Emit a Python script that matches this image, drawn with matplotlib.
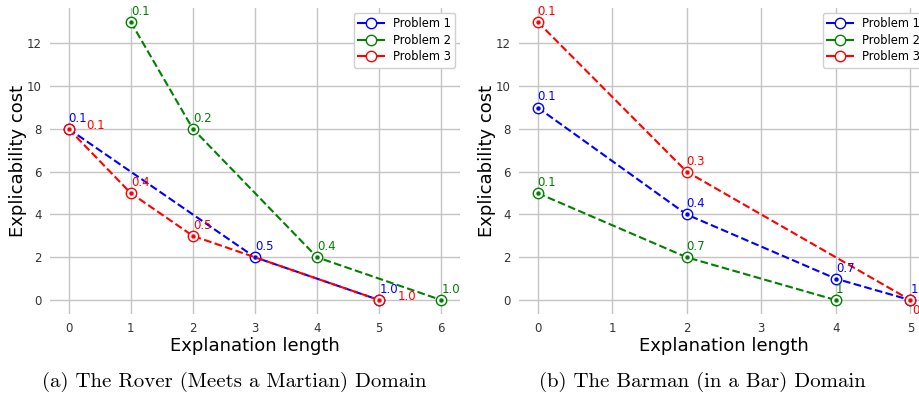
import matplotlib
matplotlib.use("Agg")
import matplotlib.pyplot as plt
from matplotlib.lines import Line2D

# (a) Rover domain
rover_p1_x = [0, 3, 5]
rover_p1_y = [8, 2, 0]
rover_p1_lbl = ["0.1", "0.5", "1.0"]
rover_p2_x = [1, 2, 4, 6]
rover_p2_y = [13, 8, 2, 0]
rover_p2_lbl = ["0.1", "0.2", "0.4", "1.0"]
rover_p3_x = [0, 1, 2, 5]
rover_p3_y = [8, 5, 3, 0]
rover_p3_lbl = ["0.1", "0.4", "0.5", "1.0"]

# (b) Barman domain
barman_p1_x = [0, 2, 4, 5]
barman_p1_y = [9, 4, 1, 0]
barman_p1_lbl = ["0.1", "0.4", "0.7", "1"]
barman_p2_x = [0, 2, 4]
barman_p2_y = [5, 2, 0]
barman_p2_lbl = ["0.1", "0.7", "1"]
barman_p3_x = [0, 2, 5]
barman_p3_y = [13, 6, 0]
barman_p3_lbl = ["0.1", "0.3", "0.9"]

names = ["Problem 1", "Problem 2", "Problem 3"]
colors = ["blue", "green", "red"]

# label offsets in points (style only)
rover_off = [
    [(0, 3), (0, 3), (0, 3)],
    [(0, 3), (0, 3), (0, 3), (0, 3)],
    [(13, -2), (0, 3), (0, 3), (13, -2)],
]
barman_off = [
    [(0, 3), (0, 3), (0, 3), (0, 3)],
    [(0, 3), (0, 3), (0, 3)],
    [(0, 3), (0, 3), (1, -12)],
]

fig = plt.figure(figsize=(9.2, 3.96), dpi=100)
ax1 = fig.add_axes([50 / 920, 82 / 396, 410 / 920, 306 / 396])
ax2 = fig.add_axes([519 / 920, 82 / 396, 410 / 920, 306 / 396])


def draw(ax, series, offsets):
    for (xs, ys, lbls), col, offs in zip(series, colors, offsets):
        ax.plot(xs, ys, ls="--", lw=1.5, color=col, marker="o", ms=7.5,
                mfc="white", mec=col, mew=1.0)
        ax.plot(xs, ys, ls="none", marker="o", ms=2.2, color=col)
        for x, y, t, o in zip(xs, ys, lbls, offs):
            ax.annotate(t, (x, y), xytext=o, textcoords="offset points",
                        color=col, fontsize=8.5, ha="left", va="bottom")
    for s in ax.spines.values():
        s.set_visible(False)
    ax.grid(True, color="#c4c4c4", lw=1)
    ax.set_axisbelow(True)
    ax.tick_params(length=0, labelsize=8.5, labelcolor="#333333", pad=6)
    ax.set_yticks([0, 2, 4, 6, 8, 10, 12])
    ax.set_ylim(-0.65, 13.65)
    ax.set_xlabel("Explanation length", fontsize=13, labelpad=1)
    ax.set_ylabel("Explicability cost", fontsize=13, labelpad=0)
    handles = [Line2D([], [], color=c, lw=1.5, marker="o", ms=7.5,
                      mfc="white", mec=c) for c in colors]
    ax.legend(handles, names, loc="upper right", fontsize=8.3,
              framealpha=1, edgecolor="#d0d0d0", borderaxespad=0.4,
              handlelength=2.2, labelspacing=0.3)


draw(ax1, [(rover_p1_x, rover_p1_y, rover_p1_lbl),
           (rover_p2_x, rover_p2_y, rover_p2_lbl),
           (rover_p3_x, rover_p3_y, rover_p3_lbl)], rover_off)
ax1.set_xticks(range(0, 7))
ax1.set_xlim(-0.3, 6.3)

draw(ax2, [(barman_p1_x, barman_p1_y, barman_p1_lbl),
           (barman_p2_x, barman_p2_y, barman_p2_lbl),
           (barman_p3_x, barman_p3_y, barman_p3_lbl)], barman_off)
ax2.set_xticks(range(0, 6))
ax2.set_xlim(-0.25, 5.25)

fig.text(234 / 920, 1 - 382 / 396, "(a) The Rover (Meets a Martian) Domain",
         family="cmr10", fontsize=15, ha="center", va="center")
fig.text(702 / 920, 1 - 382 / 396, "(b) The Barman (in a Bar) Domain",
         family="cmr10", fontsize=15, ha="center", va="center")

fig.savefig("out.png", dpi=100)
